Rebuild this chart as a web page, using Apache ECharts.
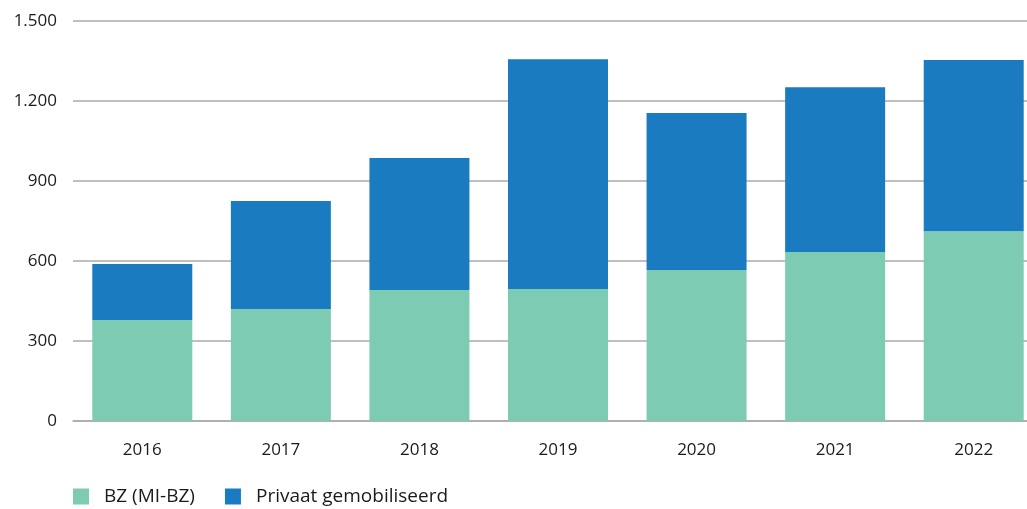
<!DOCTYPE html>
<html><head><meta charset="utf-8">
<script src="https://cdn.jsdelivr.net/npm/echarts@6/dist/echarts.min.js"></script>
<style>html,body{margin:0;padding:0;background:#fff;overflow:hidden}#c{width:1043px;height:509px}</style>
</head><body><div id="c"></div>
<script>
var categories = ['2016','2017','2018','2019','2020','2021','2022'];
var bzValues = [379, 420, 491, 495, 566, 634, 712];
var privaatValues = [210, 405, 495, 862, 589, 618, 642];
var seriesNames = ['BZ (MI-BZ)', 'Privaat gemobiliseerd'];
var yTicks = [0, 300, 600, 900, 1200, 1500];

var chart = echarts.init(document.getElementById('c'));
var font = 'Open Sans';
chart.setOption({
  animation: false,
  grid: {left: 73, top: 21, right: 0, height: 400, containLabel: false},
  legend: {
    left: 73, top: 487, padding: 0, itemWidth: 16, itemHeight: 16, itemGap: 30,
    icon: 'rect',
    textStyle: {fontFamily: font, fontSize: 19, color: '#1a1a1a', padding: [0,0,0,10]},
    data: seriesNames
  },
  xAxis: {
    type: 'category', data: categories,
    axisLine: {show: true, lineStyle: {color: '#aaa', width: 1.5}},
    axisTick: {show: false},
    axisLabel: {fontFamily: font, fontSize: 17, color: '#1a1a1a', margin: 21}
  },
  yAxis: {
    type: 'value', min: yTicks[0], max: yTicks[yTicks.length-1], interval: 300,
    axisLine: {show: false}, axisTick: {show: false},
    splitLine: {lineStyle: {color: '#aaa', width: 1.5}},
    axisLabel: {fontFamily: font, fontSize: 17, color: '#1a1a1a', margin: 16,
      formatter: function(v){ return String(v).replace(/\B(?=(\d{3})+(?!\d))/g, '.'); }}
  },
  series: [
    {name: seriesNames[0], type: 'bar', stack: 't', data: bzValues, barWidth: 100, itemStyle: {color: '#7ECBB4'}},
    {name: seriesNames[1], type: 'bar', stack: 't', data: privaatValues, barWidth: 100, itemStyle: {color: '#1A7BC1'}}
  ]
});
</script></body></html>
